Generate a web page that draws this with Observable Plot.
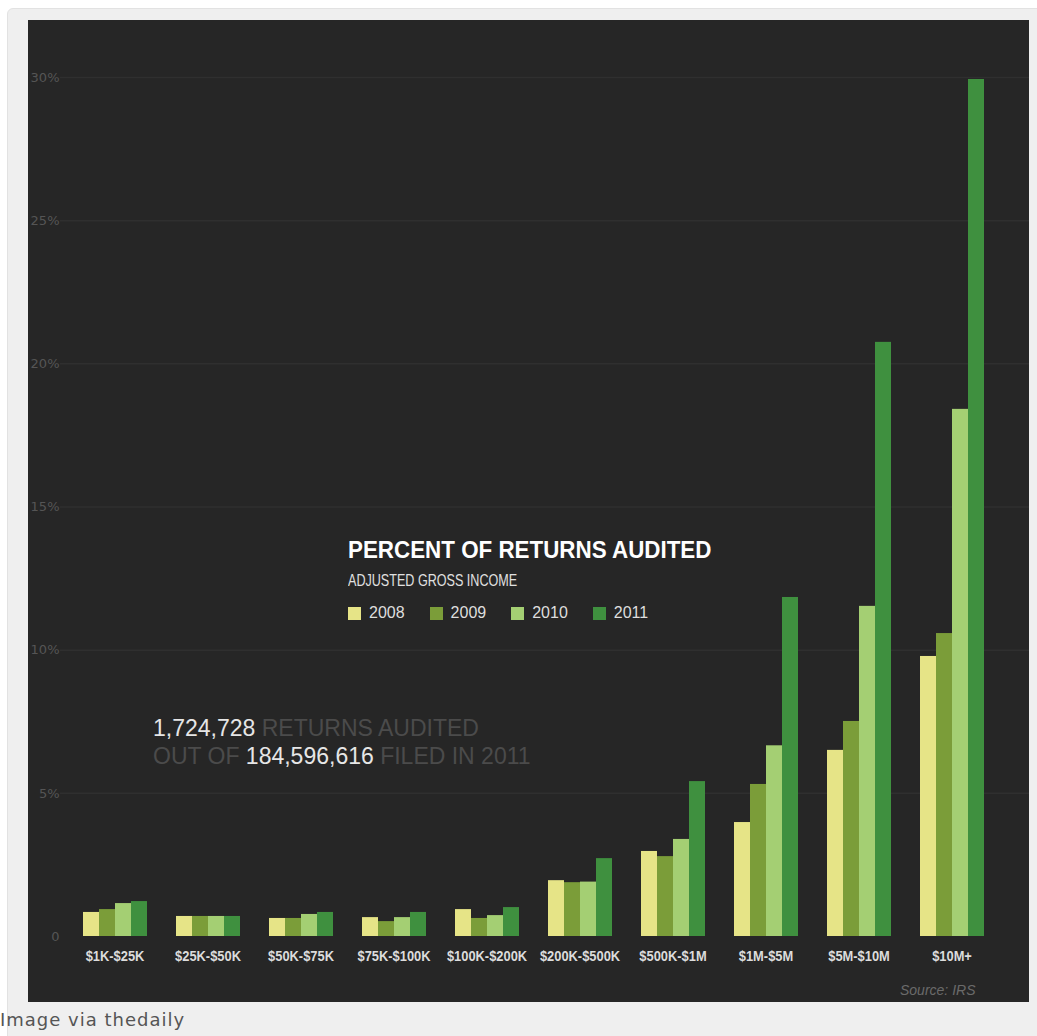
<!DOCTYPE html>
<html>
<head>
<meta charset="utf-8">
<script src="https://cdn.jsdelivr.net/npm/d3@7"></script>
<script src="https://cdn.jsdelivr.net/npm/@observablehq/plot@0.6"></script>
<style>
html,body{margin:0;padding:0;background:#fff;}
body{width:1037px;height:1036px;position:relative;overflow:hidden;}
#box{position:absolute;left:7px;top:8px;width:1045px;height:1045px;background:#efefef;border:1px solid #e2e2e2;border-radius:6px;box-sizing:border-box;}
#panel{position:absolute;left:28px;top:20px;width:1001px;height:982px;background:#262626;overflow:hidden;}
#panel > svg{position:absolute;left:0;top:0;}
.t{position:absolute;white-space:nowrap;line-height:1;transform-origin:0 0;}
#title{left:320px;top:517px;font:bold 23px "Liberation Sans",Arial,sans-serif;color:#fff;transform:scaleX(0.973);}
#subtitle{left:320px;top:551px;font:17px "Liberation Sans",Arial,sans-serif;color:#e0e0e0;transform:scaleX(0.74);}
#legend{position:absolute;left:320px;top:584px;}
#legend .lg-swatches{font:16px "Liberation Sans",Arial,sans-serif !important;color:#dedede;margin:0 !important;line-height:18px;}
#legend .lg-swatches-wrap{min-height:0 !important;}
#legend .lg-swatches-wrap .lg-swatch{margin-right:25px !important;}
#legend .lg-swatch > svg{margin-right:8px !important;}
.ann{left:125px;font:23px "Liberation Sans",Arial,sans-serif;color:#4b4b4b;}
.ann b{font-weight:normal;color:#e6e6e6;}
#ann1{top:695px;}
#ann2{top:723px;}
#source{left:872px;top:962px;font:italic 14px "Liberation Sans",Arial,sans-serif;color:#6a6a6a;}
#caption{position:absolute;left:0px;top:1011px;font:18px "DejaVu Sans",sans-serif;letter-spacing:1px;color:#555;white-space:nowrap;line-height:1;}
</style>
</head>
<body>
<div id="box"></div>
<div id="panel"></div>
<div id="caption">Image via thedaily</div>
<script>
// ---- data ----
const brackets = ["$1K-$25K","$25K-$50K","$50K-$75K","$75K-$100K","$100K-$200K","$200K-$500K","$500K-$1M","$1M-$5M","$5M-$10M","$10M+"];
const years = ["2008","2009","2010","2011"];
const rate2008 = [0.84, 0.70, 0.63, 0.66, 0.94, 1.95, 2.97, 3.98, 6.50, 9.78];
const rate2009 = [0.94, 0.70, 0.63, 0.52, 0.63, 1.88, 2.79, 5.31, 7.51, 10.58];
const rate2010 = [1.15, 0.70, 0.77, 0.66, 0.73, 1.90, 3.39, 6.66, 11.53, 18.41];
const rate2011 = [1.22, 0.70, 0.84, 0.84, 1.01, 2.72, 5.41, 11.84, 20.75, 29.93];
const yearColors = ["#e6e487", "#7b9d39", "#a4cf73", "#3f903f"];
const yTicks = [0, 5, 10, 15, 20, 25, 30];
const yTickLabels = ["0", "5%", "10%", "15%", "20%", "25%", "30%"];

const series = [rate2008, rate2009, rate2010, rate2011];
const table = brackets.flatMap((b, i) => years.map((yr, j) => ({bracket: b, year: yr, rate: series[j][i]})));

const W = 1001, H = 982, MT = 57, MB = 66;

const grid = Plot.plot({
  width: W, height: H, marginTop: MT, marginBottom: MB, marginLeft: 32, marginRight: 0,
  style: {background: "transparent", color: "#555555", fontSize: "13px", fontFamily: '"DejaVu Sans",sans-serif', overflow: "visible"},
  y: {domain: [0, 30], ticks: yTicks, tickFormat: d => yTickLabels[yTicks.indexOf(d)], tickSize: 0, tickPadding: 1, label: null},
  marks: [Plot.ruleY(yTicks.filter(d => d > 0), {stroke: "#2f2f2f", strokeWidth: 1.5})]
});

const bars = Plot.plot({
  width: W, height: H, marginTop: MT, marginBottom: MB, marginLeft: 36, marginRight: 26,
  style: {background: "transparent", color: "#dcdcdc", fontSize: "14px", fontWeight: "bold", fontFamily: '"Liberation Sans",Arial,sans-serif', overflow: "visible"},
  facet: {data: table, x: "bracket"},
  fx: {domain: brackets, paddingInner: 0.276, paddingOuter: 0.138, label: null, axis: "bottom", tickSize: 0, tickPadding: 15},
  x: {domain: years, padding: 0, axis: null},
  y: {domain: [0, 30], axis: null},
  color: {domain: years, range: yearColors},
  marks: [Plot.barY(table, {x: "year", y: "rate", fill: "year"})]
});

const panel = document.getElementById("panel");
panel.appendChild(grid);
panel.appendChild(bars);

// condense the category labels slightly (the reference uses a condensed face)
bars.querySelectorAll("text").forEach(t => {
  const len = t.getComputedTextLength();
  if (len > 0) {
    t.setAttribute("textLength", len * 0.92);
    t.setAttribute("lengthAdjust", "spacingAndGlyphs");
  }
});

function addText(id, cls, html) {
  const d = document.createElement("div");
  d.id = id; d.className = "t " + cls; d.innerHTML = html;
  panel.appendChild(d);
}
addText("title", "", "PERCENT OF RETURNS AUDITED");
addText("subtitle", "", "ADJUSTED GROSS INCOME");
const lg = document.createElement("div");
lg.id = "legend";
lg.appendChild(bars.legend("color", {className: "lg", swatchSize: 13}));
panel.appendChild(lg);
addText("ann1", "ann", "<b>1,724,728</b> RETURNS AUDITED");
addText("ann2", "ann", "OUT OF <b>184,596,616</b> FILED IN 2011");
addText("source", "", "Source: IRS");
</script>
</body>
</html>
